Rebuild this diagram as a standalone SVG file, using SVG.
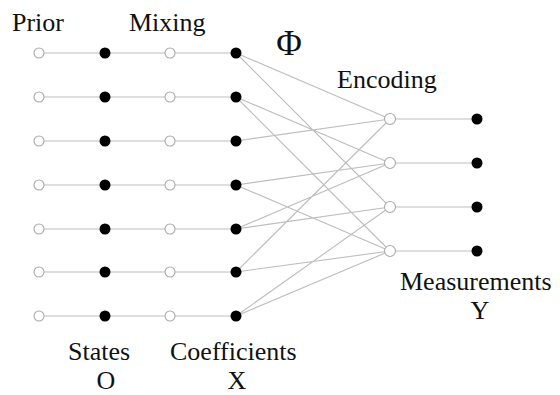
<svg xmlns="http://www.w3.org/2000/svg" width="560" height="395" viewBox="0 0 560 395">
<style>
.e{stroke:#bdbdbd;stroke-width:1.1;fill:none}
.o{fill:#fff;stroke:#aaa;stroke-width:1.1}
.f{fill:#000}
.t{font-family:'Liberation Serif','Times New Roman',serif;font-size:26px;fill:#111}
</style>
<rect width="560" height="395" fill="#fff"/>
<g id="connectors" class="e">
<path d="M39 53H236M39 97H236M39 141H236M39 185H236M39 229H236M39 272H236M39 316H236"/>
<path d="M390 119H477M390 163H477M390 207H477M390 251H477"/>
<path d="M236 53L390 119M236 53L390 207M236 97L390 163M236 97L390 251M236 141L390 119M236 185L390 163M236 185L390 251M236 229L390 163M236 229L390 207M236 272L390 119M236 272L390 251M236 316L390 207M236 316L390 251"/>
</g>
<g id="prior">
<circle class="o" cx="39" cy="53" r="5"/><circle class="o" cx="39" cy="97" r="5"/><circle class="o" cx="39" cy="141" r="5"/><circle class="o" cx="39" cy="185" r="5"/><circle class="o" cx="39" cy="229" r="5"/><circle class="o" cx="39" cy="272" r="5"/><circle class="o" cx="39" cy="316" r="5"/>
</g>
<g id="states">
<circle class="f" cx="105" cy="53" r="5.5"/><circle class="f" cx="105" cy="97" r="5.5"/><circle class="f" cx="105" cy="141" r="5.5"/><circle class="f" cx="105" cy="185" r="5.5"/><circle class="f" cx="105" cy="229" r="5.5"/><circle class="f" cx="105" cy="272" r="5.5"/><circle class="f" cx="105" cy="316" r="5.5"/>
</g>
<g id="mixing">
<circle class="o" cx="170" cy="53" r="5"/><circle class="o" cx="170" cy="97" r="5"/><circle class="o" cx="170" cy="141" r="5"/><circle class="o" cx="170" cy="185" r="5"/><circle class="o" cx="170" cy="229" r="5"/><circle class="o" cx="170" cy="272" r="5"/><circle class="o" cx="170" cy="316" r="5"/>
</g>
<g id="coefficients">
<circle class="f" cx="236" cy="53" r="5.5"/><circle class="f" cx="236" cy="97" r="5.5"/><circle class="f" cx="236" cy="141" r="5.5"/><circle class="f" cx="236" cy="185" r="5.5"/><circle class="f" cx="236" cy="229" r="5.5"/><circle class="f" cx="236" cy="272" r="5.5"/><circle class="f" cx="236" cy="316" r="5.5"/>
</g>
<g id="encoding">
<circle class="o" cx="390" cy="119" r="5.5"/><circle class="o" cx="390" cy="163" r="5.5"/><circle class="o" cx="390" cy="207" r="5.5"/><circle class="o" cx="390" cy="251" r="5.5"/>
</g>
<g id="measurements">
<circle class="f" cx="477" cy="119" r="5.5"/><circle class="f" cx="477" cy="163" r="5.5"/><circle class="f" cx="477" cy="207" r="5.5"/><circle class="f" cx="477" cy="251" r="5.5"/>
</g>
<g id="labels">
<text class="t" x="12" y="31">Prior</text>
<text class="t" x="129" y="31">Mixing</text>
<text class="t" x="289" y="55" text-anchor="middle" style="font-size:35px">Φ</text>
<text class="t" x="337" y="88">Encoding</text>
<text class="t" x="400" y="290">Measurements</text>
<text class="t" x="480" y="319" text-anchor="middle">Y</text>
<text class="t" x="68" y="360">States</text>
<text class="t" x="106" y="389" text-anchor="middle">O</text>
<text class="t" x="170" y="360">Coefficients</text>
<text class="t" x="237" y="389" text-anchor="middle">X</text>
</g>
</svg>
